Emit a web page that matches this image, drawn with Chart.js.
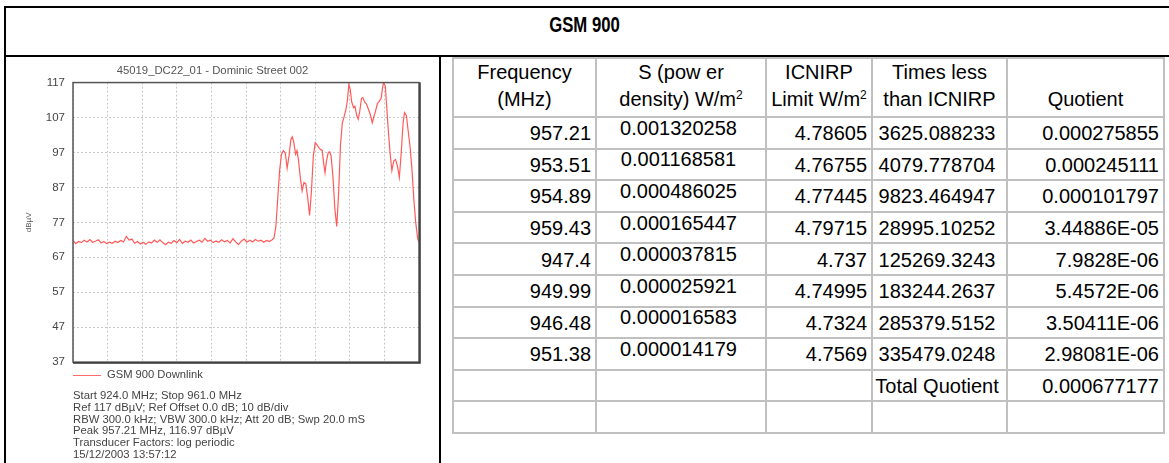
<!DOCTYPE html>
<html>
<head>
<meta charset="utf-8">
<style>
  html, body { margin: 0; height: 100%; overflow: hidden; background: #fff; }
  body { position: relative; width: 1169px; height: 463px; font-family: 'Liberation Sans', Arial, sans-serif; color: #000; }
  .bar { position: absolute; background: #000; }
  .grey { position: absolute; background: #c0c0c0; }
  #title { position: absolute; left: 0; width: 1169px; top: 12px; text-align: center; }
  #title span { display: inline-block; font-weight: bold; font-size: 22px; transform: scaleX(0.76); }
  #chartBox { position: absolute; left: 6px; top: 57px; width: 433px; height: 320px; }
  #legend { position: absolute; left: 73px; top: 366px; font-size: 11.2px; line-height: 16px; color: #444; white-space: nowrap; }
  #legend i { display: inline-block; width: 28px; height: 0; border-top: 1.5px solid #ff6a6a; vertical-align: middle; margin-right: 6px; }
  #info { position: absolute; left: 73px; top: 390px; font-size: 11.3px; line-height: 11.8px; color: #444; white-space: nowrap; }
  .cell { position: absolute; box-sizing: border-box; display: flex; align-items: center; font-size: 20px; white-space: nowrap; }
  .head { flex-direction: column; justify-content: flex-start; align-items: center; line-height: 27px; padding-top: 1px; }
  sup { font-size: 12px; vertical-align: 7px; line-height: 0; }
</style>
</head>
<body>
  <div class="bar" style="left:4px; top:6px; width:1165px; height:2px"></div>
  <div class="bar" style="left:4px; top:55px; width:1165px; height:2px"></div>
  <div class="bar" style="left:4px; top:6px; width:2px; height:457px"></div>
  <div class="bar" style="left:439px; top:55px; width:2px; height:408px"></div>
  <div id="title"><span>GSM 900</span></div>

  <div id="chartBox"><canvas id="chart1"></canvas></div>
  <div id="legend"><i></i>GSM 900 Downlink</div>
  <div id="info">
    Start 924.0 MHz; Stop 961.0 MHz<br>
    Ref 117 dBµV; Ref Offset 0.0 dB; 10 dB/div<br>
    RBW 300.0 kHz; VBW 300.0 kHz; Att 20 dB; Swp 20.0 mS<br>
    Peak 957.21 MHz, 116.97 dBµV<br>
    Transducer Factors: log periodic<br>
    15/12/2003 13:57:12
  </div>
  <div id="table"></div>
</body>
<script src="https://cdn.jsdelivr.net/npm/chart.js@4.4.1/dist/chart.umd.min.js"></script>
<script>
  // spectrum trace (MHz, dBuV)
  const freqs = [
    924.0, 924.3, 924.6, 924.9, 925.2, 925.5, 925.8, 926.1, 926.4, 926.7,
    927.0, 927.3, 927.6, 927.9, 928.2, 928.5, 928.8, 929.1, 929.4, 929.7,
    930.0, 930.3, 930.6, 930.9, 931.2, 931.5, 931.8, 932.1, 932.4, 932.7,
    933.0, 933.3, 933.6, 933.9, 934.2, 934.5, 934.8, 935.1, 935.4, 935.7,
    936.0, 936.3, 936.6, 936.9, 937.2, 937.5, 937.8, 938.1, 938.4, 938.7,
    939.0, 939.3, 939.6, 939.9, 940.2, 940.5, 940.8, 941.1, 941.4, 941.7,
    942.0, 942.3, 942.6, 942.9, 943.2, 943.5, 943.8, 944.1, 944.4, 944.7,
    945.0, 945.3, 945.5, 945.7, 945.9, 946.1, 946.3, 946.5, 946.7, 946.9,
    947.1, 947.3, 947.45, 947.6, 947.8, 947.95, 948.1, 948.3, 948.5, 948.7,
    948.9, 949.1, 949.3, 949.5, 949.7, 949.9, 950.1, 950.3, 950.5, 950.65,
    950.8, 950.95, 951.1, 951.3, 951.45, 951.6, 951.8, 952.0, 952.2, 952.4,
    952.6, 952.8, 953.0, 953.2, 953.35, 953.5, 953.65, 953.8, 954.0, 954.15,
    954.35, 954.5, 954.65, 954.85, 955.0, 955.2, 955.4, 955.6, 955.8, 956.0,
    956.15, 956.35, 956.55, 956.75, 956.95, 957.1, 957.21, 957.4, 957.55, 957.7,
    957.9, 958.1, 958.3, 958.5, 958.7, 958.9, 959.1, 959.3, 959.45, 959.65,
    959.85, 960.05, 960.25, 960.45, 960.65, 960.85, 961.0
  ];
  const levels = [
    71.8, 70.9, 71.5, 71.2, 71.9, 71.4, 72.1, 71.3, 71.6, 72.0,
    71.1, 71.5, 70.9, 71.3, 71.0, 71.6, 71.2, 71.8, 71.4, 73.0,
    71.9, 72.2, 71.0, 71.5, 70.8, 71.3, 70.7, 71.4, 71.1, 71.9,
    71.3, 72.0, 71.2, 70.6, 71.3, 71.0, 71.8, 71.2, 72.1, 71.0,
    71.6, 71.3, 71.9, 71.1, 71.5, 71.9, 71.3, 72.4, 71.6, 71.9,
    71.2, 71.7, 71.3, 72.0, 71.4, 71.8, 71.1, 72.3, 71.4, 70.6,
    71.6, 72.2, 71.3, 71.9, 71.4, 72.1, 71.6, 71.9, 71.3, 71.8,
    71.5, 72.0, 72.5, 76.0, 84.0, 92.0, 96.5, 97.5, 96.8, 92.5,
    96.0, 100.8, 101.5, 100.0, 96.5, 97.5, 95.0, 90.0, 86.0, 88.4,
    88.0, 84.0, 79.0, 86.0, 96.0, 99.8, 99.2, 98.3, 97.8, 97.6,
    94.0, 91.2, 94.5, 97.0, 97.2, 96.0, 90.0, 81.0, 75.8, 85.0,
    99.0, 105.5, 107.3, 109.5, 112.0, 116.5, 115.0, 111.5, 109.8, 110.2,
    107.5, 106.5, 108.5, 112.5, 112.7, 111.4, 110.8, 109.3, 107.8, 105.5,
    107.0, 108.8, 111.0, 111.6, 112.5, 115.5, 117.0, 116.0, 110.0, 104.0,
    97.0, 91.8, 94.6, 95.0, 93.0, 89.8, 97.0, 105.5, 108.4, 107.6,
    103.0, 98.5, 92.0, 83.5, 77.0, 72.5, 71.2
  ];
  const yTicks = [37, 47, 57, 67, 77, 87, 97, 107, 117];

  // table columns
  const freqCol = ['957.21', '953.51', '954.89', '959.43', '947.4', '949.99', '946.48', '951.38'];
  const powerCol = ['0.001320258', '0.001168581', '0.000486025', '0.000165447', '0.000037815', '0.000025921', '0.000016583', '0.000014179'];
  const limitCol = ['4.78605', '4.76755', '4.77445', '4.79715', '4.737', '4.74995', '4.7324', '4.7569'];
  const timesCol = ['3625.088233', '4079.778704', '9823.464947', '28995.10252', '125269.3243', '183244.2637', '285379.5152', '335479.0248'];
  const quotCol = ['0.000275855', '0.000245111', '0.000101797', '3.44886E-05', '7.9828E-06', '5.4572E-06', '3.50411E-06', '2.98081E-06'];
  const totalLabel = 'Total Quotient';
  const totalValue = '0.000677177';
  const headers = [
    ['Frequency', '(MHz)'],
    ['S (pow er', 'density) W/m<sup>2</sup>'],
    ['ICNIRP', 'Limit W/m<sup>2</sup>'],
    ['Times less', 'than ICNIRP'],
    ['&nbsp;', 'Quotient']
  ];

  // ---- table layout ----
  const colX = [453, 596, 766, 872, 1007, 1164];
  const headTop = 58, headBottom = 117, rowH = 31.6, nRows = 10;
  const tbl = document.getElementById('table');
  function addDiv(cls, css, html) {
    const d = document.createElement('div');
    d.className = cls;
    d.style.cssText = css;
    if (html !== undefined) d.innerHTML = html;
    tbl.appendChild(d);
    return d;
  }
  const tableBottom = headBottom + nRows * rowH;
  colX.forEach(x => addDiv('grey', `left:${x - 1}px;top:${headTop - 1}px;width:2px;height:${tableBottom - headTop + 2}px`));
  addDiv('grey', `left:${colX[0] - 1}px;top:${headTop - 1}px;width:${colX[5] - colX[0] + 2}px;height:2px`);
  for (let r = 0; r <= nRows; r++) {
    const y = headBottom + r * rowH;
    addDiv('grey', `left:${colX[0] - 1}px;top:${y - 1}px;width:${colX[5] - colX[0] + 2}px;height:2px`);
  }
  headers.forEach((h, c) => {
    addDiv('cell head', `left:${colX[c]}px;top:${headTop}px;width:${colX[c + 1] - colX[c]}px;height:${headBottom - headTop}px`,
      `<div>${h[0]}</div><div>${h[1]}</div>`);
  });
  const cols = [freqCol, powerCol, limitCol, timesCol, quotCol];
  const aligns = ['flex-end', 'center', 'flex-end', 'center', 'flex-end'];
  function cell(c, r, text) {
    const top = headBottom + r * rowH;
    const raise = c === 1 ? 'padding-bottom:9px;' : 'padding-top:2px;';
    addDiv('cell', `left:${colX[c]}px;top:${top}px;width:${colX[c + 1] - colX[c]}px;height:${rowH}px;justify-content:${aligns[c]};padding-right:5px;${raise}`, text);
  }
  for (let r = 0; r < freqCol.length; r++) {
    cols.forEach((col, c) => cell(c, r, col[r]));
  }
  cell(3, 8, totalLabel);
  cell(4, 8, totalValue);

  // ---- chart ----
  const framePlugin = {
    id: 'frame',
    afterDraw(chart) {
      const { ctx, chartArea: a } = chart;
      ctx.save();
      ctx.strokeStyle = '#555';
      ctx.lineWidth = 1.5;
      ctx.strokeRect(a.left, a.top, a.right - a.left, a.bottom - a.top);
      ctx.strokeStyle = '#333';
      ctx.beginPath();
      ctx.moveTo(a.right + 1, a.top);
      ctx.lineTo(a.right + 1, a.bottom + 1);
      ctx.lineTo(a.left, a.bottom + 1);
      ctx.stroke();
      ctx.restore();
    }
  };

  const font = 'Liberation Sans, Arial, sans-serif';
  new Chart(document.getElementById('chart1'), {
    type: 'line',
    data: {
      datasets: [{
        label: 'GSM 900 Downlink',
        data: freqs.map((f, i) => ({ x: f, y: levels[i] })),
        borderColor: '#ff5a5a',
        borderWidth: 1.2,
        pointRadius: 0,
        tension: 0
      }]
    },
    options: {
      responsive: true,
      maintainAspectRatio: false,
      animation: false,
      layout: { padding: { left: 0, right: 20, top: 0, bottom: 9 } },
      plugins: {
        legend: { display: false },
        tooltip: { enabled: false },
        title: {
          display: true,
          text: '45019_DC22_01 - Dominic Street 002',
          color: '#555',
          font: { family: font, size: 11.3, weight: 'normal' },
          padding: { top: 7, bottom: 5 }
        }
      },
      scales: {
        x: {
          type: 'linear',
          min: 924,
          max: 961,
          afterBuildTicks: s => {
            s.ticks = Array.from({ length: 11 }, (_, i) => ({ value: 924 + i * 3.7 }))
          },
          afterFit: s => { s.height = 0 },
          ticks: { display: false },
          grid: { color: '#c8c8c8', drawTicks: false },
          border: { display: false, dash: [2, 2] }
        },
        y: {
          min: 37,
          max: 117,
          afterBuildTicks: s => { s.ticks = yTicks.map(v => ({ value: v })) },
          afterFit: s => { s.width = 67 },
          ticks: { color: '#444', font: { family: font, size: 11.5 }, padding: 8 },
          grid: { color: '#c8c8c8', drawTicks: false },
          border: { display: false, dash: [2, 2] },
          title: {
            display: true,
            text: 'dBµV',
            color: '#555',
            font: { family: font, size: 8 },
            padding: { top: 18, bottom: 0 }
          }
        }
      }
    },
    plugins: [framePlugin]
  })
</script>
</html>
